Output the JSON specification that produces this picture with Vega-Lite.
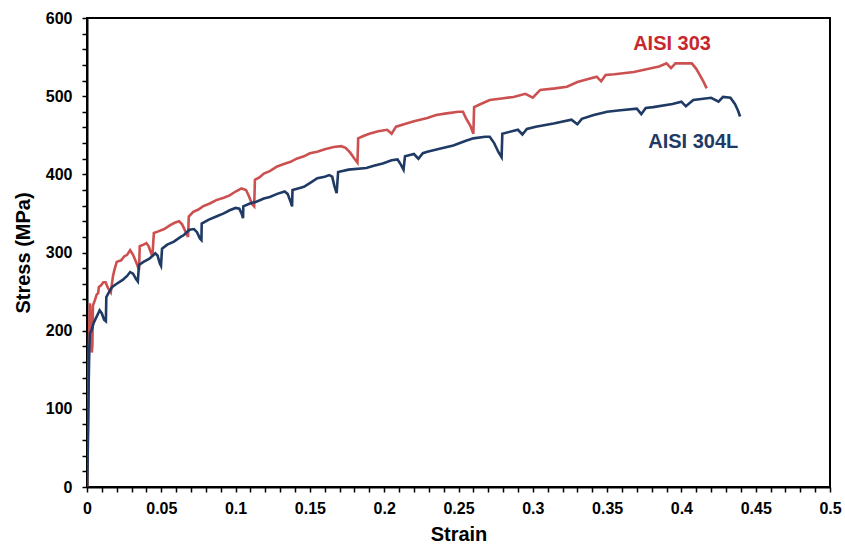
{
  "$schema": "https://vega.github.io/schema/vega-lite/v6.json",
  "width": 743,
  "height": 469,
  "autosize": {"type": "none"},
  "padding": {"left": 87, "top": 18, "right": 15, "bottom": 59},
  "background": "white",
  "view": {"stroke": "#000000", "strokeWidth": 2},
  "config": {
    "view": {"stroke": "#000000", "strokeWidth": 2},
    "axis": {
      "grid": false,
      "domainColor": "#000000",
      "domainWidth": 2,
      "tickColor": "#000000",
      "tickWidth": 1.5,
      "tickSize": 5,
      "labelOverlap": false,
      "labelBound": false,
      "labelFlush": false,
      "labelFont": "Liberation Sans",
      "labelFontWeight": "bold",
      "labelFontSize": 16,
      "labelColor": "#000000",
      "titleFont": "Liberation Sans",
      "titleFontWeight": "bold",
      "titleFontSize": 20,
      "titleColor": "#000000"
    }
  },
  "datasets": {
    "curves": [
      {"alloy": "AISI 303", "strain": 0, "stress": 0},
      {"alloy": "AISI 303", "strain": 0.0004, "stress": 50},
      {"alloy": "AISI 303", "strain": 0.0008, "stress": 110},
      {"alloy": "AISI 303", "strain": 0.0012, "stress": 170},
      {"alloy": "AISI 303", "strain": 0.0016, "stress": 215},
      {"alloy": "AISI 303", "strain": 0.002, "stress": 235},
      {"alloy": "AISI 303", "strain": 0.0026, "stress": 205},
      {"alloy": "AISI 303", "strain": 0.0032, "stress": 172},
      {"alloy": "AISI 303", "strain": 0.0036, "stress": 180},
      {"alloy": "AISI 303", "strain": 0.004, "stress": 232},
      {"alloy": "AISI 303", "strain": 0.0055, "stress": 240},
      {"alloy": "AISI 303", "strain": 0.0065, "stress": 246},
      {"alloy": "AISI 303", "strain": 0.0075, "stress": 248},
      {"alloy": "AISI 303", "strain": 0.008, "stress": 256},
      {"alloy": "AISI 303", "strain": 0.0095, "stress": 258},
      {"alloy": "AISI 303", "strain": 0.011, "stress": 262},
      {"alloy": "AISI 303", "strain": 0.0125, "stress": 262},
      {"alloy": "AISI 303", "strain": 0.014, "stress": 255},
      {"alloy": "AISI 303", "strain": 0.016, "stress": 249},
      {"alloy": "AISI 303", "strain": 0.0175, "stress": 270},
      {"alloy": "AISI 303", "strain": 0.0185, "stress": 278},
      {"alloy": "AISI 303", "strain": 0.02, "stress": 288},
      {"alloy": "AISI 303", "strain": 0.023, "stress": 290},
      {"alloy": "AISI 303", "strain": 0.025, "stress": 295},
      {"alloy": "AISI 303", "strain": 0.027, "stress": 297},
      {"alloy": "AISI 303", "strain": 0.029, "stress": 303},
      {"alloy": "AISI 303", "strain": 0.031, "stress": 297},
      {"alloy": "AISI 303", "strain": 0.033, "stress": 288},
      {"alloy": "AISI 303", "strain": 0.035, "stress": 278},
      {"alloy": "AISI 303", "strain": 0.0355, "stress": 308},
      {"alloy": "AISI 303", "strain": 0.038, "stress": 310},
      {"alloy": "AISI 303", "strain": 0.04, "stress": 312},
      {"alloy": "AISI 303", "strain": 0.0415, "stress": 308},
      {"alloy": "AISI 303", "strain": 0.043, "stress": 300},
      {"alloy": "AISI 303", "strain": 0.044, "stress": 295},
      {"alloy": "AISI 303", "strain": 0.045, "stress": 325},
      {"alloy": "AISI 303", "strain": 0.048, "stress": 327},
      {"alloy": "AISI 303", "strain": 0.052, "stress": 330},
      {"alloy": "AISI 303", "strain": 0.056, "stress": 335},
      {"alloy": "AISI 303", "strain": 0.059, "stress": 338},
      {"alloy": "AISI 303", "strain": 0.062, "stress": 340},
      {"alloy": "AISI 303", "strain": 0.064, "stress": 336},
      {"alloy": "AISI 303", "strain": 0.066, "stress": 328},
      {"alloy": "AISI 303", "strain": 0.068, "stress": 320},
      {"alloy": "AISI 303", "strain": 0.0685, "stress": 346},
      {"alloy": "AISI 303", "strain": 0.0715, "stress": 352},
      {"alloy": "AISI 303", "strain": 0.075, "stress": 355},
      {"alloy": "AISI 303", "strain": 0.078, "stress": 359},
      {"alloy": "AISI 303", "strain": 0.083, "stress": 363},
      {"alloy": "AISI 303", "strain": 0.087, "stress": 367},
      {"alloy": "AISI 303", "strain": 0.092, "stress": 370},
      {"alloy": "AISI 303", "strain": 0.096, "stress": 373},
      {"alloy": "AISI 303", "strain": 0.1, "stress": 378},
      {"alloy": "AISI 303", "strain": 0.104, "stress": 382},
      {"alloy": "AISI 303", "strain": 0.107, "stress": 380},
      {"alloy": "AISI 303", "strain": 0.109, "stress": 372},
      {"alloy": "AISI 303", "strain": 0.111, "stress": 362},
      {"alloy": "AISI 303", "strain": 0.1125, "stress": 359},
      {"alloy": "AISI 303", "strain": 0.113, "stress": 393},
      {"alloy": "AISI 303", "strain": 0.116, "stress": 396},
      {"alloy": "AISI 303", "strain": 0.119, "stress": 401},
      {"alloy": "AISI 303", "strain": 0.123, "stress": 404},
      {"alloy": "AISI 303", "strain": 0.128, "stress": 410},
      {"alloy": "AISI 303", "strain": 0.132, "stress": 413},
      {"alloy": "AISI 303", "strain": 0.137, "stress": 416},
      {"alloy": "AISI 303", "strain": 0.141, "stress": 420},
      {"alloy": "AISI 303", "strain": 0.146, "stress": 423},
      {"alloy": "AISI 303", "strain": 0.15, "stress": 427},
      {"alloy": "AISI 303", "strain": 0.155, "stress": 429},
      {"alloy": "AISI 303", "strain": 0.16, "stress": 432},
      {"alloy": "AISI 303", "strain": 0.166, "stress": 435},
      {"alloy": "AISI 303", "strain": 0.171, "stress": 436},
      {"alloy": "AISI 303", "strain": 0.174, "stress": 434},
      {"alloy": "AISI 303", "strain": 0.177, "stress": 428},
      {"alloy": "AISI 303", "strain": 0.18, "stress": 420},
      {"alloy": "AISI 303", "strain": 0.182, "stress": 415},
      {"alloy": "AISI 303", "strain": 0.1825, "stress": 446},
      {"alloy": "AISI 303", "strain": 0.186, "stress": 449},
      {"alloy": "AISI 303", "strain": 0.19, "stress": 452},
      {"alloy": "AISI 303", "strain": 0.196, "stress": 455},
      {"alloy": "AISI 303", "strain": 0.202, "stress": 457},
      {"alloy": "AISI 303", "strain": 0.205, "stress": 452},
      {"alloy": "AISI 303", "strain": 0.208, "stress": 461},
      {"alloy": "AISI 303", "strain": 0.215, "stress": 465},
      {"alloy": "AISI 303", "strain": 0.22, "stress": 468},
      {"alloy": "AISI 303", "strain": 0.229, "stress": 472},
      {"alloy": "AISI 303", "strain": 0.235, "stress": 476},
      {"alloy": "AISI 303", "strain": 0.242, "stress": 478},
      {"alloy": "AISI 303", "strain": 0.25, "stress": 480},
      {"alloy": "AISI 303", "strain": 0.253, "stress": 480},
      {"alloy": "AISI 303", "strain": 0.255, "stress": 472},
      {"alloy": "AISI 303", "strain": 0.258, "stress": 462},
      {"alloy": "AISI 303", "strain": 0.26, "stress": 452},
      {"alloy": "AISI 303", "strain": 0.2605, "stress": 486},
      {"alloy": "AISI 303", "strain": 0.265, "stress": 490},
      {"alloy": "AISI 303", "strain": 0.271, "stress": 495},
      {"alloy": "AISI 303", "strain": 0.279, "stress": 497},
      {"alloy": "AISI 303", "strain": 0.287, "stress": 499},
      {"alloy": "AISI 303", "strain": 0.295, "stress": 503},
      {"alloy": "AISI 303", "strain": 0.3, "stress": 498},
      {"alloy": "AISI 303", "strain": 0.305, "stress": 508},
      {"alloy": "AISI 303", "strain": 0.315, "stress": 510},
      {"alloy": "AISI 303", "strain": 0.323, "stress": 512},
      {"alloy": "AISI 303", "strain": 0.33, "stress": 518},
      {"alloy": "AISI 303", "strain": 0.343, "stress": 525},
      {"alloy": "AISI 303", "strain": 0.346, "stress": 519},
      {"alloy": "AISI 303", "strain": 0.349, "stress": 527},
      {"alloy": "AISI 303", "strain": 0.355, "stress": 528},
      {"alloy": "AISI 303", "strain": 0.368, "stress": 531},
      {"alloy": "AISI 303", "strain": 0.378, "stress": 535},
      {"alloy": "AISI 303", "strain": 0.385, "stress": 538},
      {"alloy": "AISI 303", "strain": 0.39, "stress": 542},
      {"alloy": "AISI 303", "strain": 0.393, "stress": 536},
      {"alloy": "AISI 303", "strain": 0.396, "stress": 542},
      {"alloy": "AISI 303", "strain": 0.407, "stress": 542},
      {"alloy": "AISI 303", "strain": 0.41, "stress": 535},
      {"alloy": "AISI 303", "strain": 0.413, "stress": 525},
      {"alloy": "AISI 303", "strain": 0.415, "stress": 518},
      {"alloy": "AISI 303", "strain": 0.417, "stress": 510},

      {"alloy": "AISI 304L", "strain": 0, "stress": 0},
      {"alloy": "AISI 304L", "strain": 0.0004, "stress": 30},
      {"alloy": "AISI 304L", "strain": 0.0008, "stress": 80},
      {"alloy": "AISI 304L", "strain": 0.0012, "stress": 140},
      {"alloy": "AISI 304L", "strain": 0.0016, "stress": 180},
      {"alloy": "AISI 304L", "strain": 0.002, "stress": 197},
      {"alloy": "AISI 304L", "strain": 0.003, "stress": 200},
      {"alloy": "AISI 304L", "strain": 0.0045, "stress": 210},
      {"alloy": "AISI 304L", "strain": 0.006, "stress": 216},
      {"alloy": "AISI 304L", "strain": 0.0075, "stress": 222},
      {"alloy": "AISI 304L", "strain": 0.0085, "stress": 226},
      {"alloy": "AISI 304L", "strain": 0.01, "stress": 222},
      {"alloy": "AISI 304L", "strain": 0.0115, "stress": 214},
      {"alloy": "AISI 304L", "strain": 0.0127, "stress": 212},
      {"alloy": "AISI 304L", "strain": 0.013, "stress": 243},
      {"alloy": "AISI 304L", "strain": 0.015, "stress": 250},
      {"alloy": "AISI 304L", "strain": 0.017, "stress": 256},
      {"alloy": "AISI 304L", "strain": 0.02, "stress": 260},
      {"alloy": "AISI 304L", "strain": 0.024, "stress": 265},
      {"alloy": "AISI 304L", "strain": 0.027, "stress": 270},
      {"alloy": "AISI 304L", "strain": 0.029, "stress": 275},
      {"alloy": "AISI 304L", "strain": 0.031, "stress": 273},
      {"alloy": "AISI 304L", "strain": 0.033, "stress": 266},
      {"alloy": "AISI 304L", "strain": 0.0342, "stress": 263},
      {"alloy": "AISI 304L", "strain": 0.035, "stress": 284},
      {"alloy": "AISI 304L", "strain": 0.038, "stress": 288},
      {"alloy": "AISI 304L", "strain": 0.042, "stress": 292},
      {"alloy": "AISI 304L", "strain": 0.046, "stress": 299},
      {"alloy": "AISI 304L", "strain": 0.0475, "stress": 296},
      {"alloy": "AISI 304L", "strain": 0.049, "stress": 286},
      {"alloy": "AISI 304L", "strain": 0.0498, "stress": 283},
      {"alloy": "AISI 304L", "strain": 0.0505, "stress": 305},
      {"alloy": "AISI 304L", "strain": 0.054, "stress": 310},
      {"alloy": "AISI 304L", "strain": 0.0585, "stress": 314},
      {"alloy": "AISI 304L", "strain": 0.063, "stress": 320},
      {"alloy": "AISI 304L", "strain": 0.065, "stress": 322},
      {"alloy": "AISI 304L", "strain": 0.069, "stress": 329},
      {"alloy": "AISI 304L", "strain": 0.072, "stress": 330},
      {"alloy": "AISI 304L", "strain": 0.074, "stress": 326},
      {"alloy": "AISI 304L", "strain": 0.076, "stress": 318},
      {"alloy": "AISI 304L", "strain": 0.077, "stress": 316},
      {"alloy": "AISI 304L", "strain": 0.0772, "stress": 337},
      {"alloy": "AISI 304L", "strain": 0.082, "stress": 342},
      {"alloy": "AISI 304L", "strain": 0.087, "stress": 346},
      {"alloy": "AISI 304L", "strain": 0.092, "stress": 350},
      {"alloy": "AISI 304L", "strain": 0.096, "stress": 354},
      {"alloy": "AISI 304L", "strain": 0.1, "stress": 357},
      {"alloy": "AISI 304L", "strain": 0.1025, "stress": 356},
      {"alloy": "AISI 304L", "strain": 0.104, "stress": 350},
      {"alloy": "AISI 304L", "strain": 0.105, "stress": 344},
      {"alloy": "AISI 304L", "strain": 0.1052, "stress": 359},
      {"alloy": "AISI 304L", "strain": 0.11, "stress": 363},
      {"alloy": "AISI 304L", "strain": 0.114, "stress": 365},
      {"alloy": "AISI 304L", "strain": 0.119, "stress": 369},
      {"alloy": "AISI 304L", "strain": 0.123, "stress": 371},
      {"alloy": "AISI 304L", "strain": 0.128, "stress": 375},
      {"alloy": "AISI 304L", "strain": 0.133, "stress": 378},
      {"alloy": "AISI 304L", "strain": 0.135, "stress": 375},
      {"alloy": "AISI 304L", "strain": 0.137, "stress": 365},
      {"alloy": "AISI 304L", "strain": 0.138, "stress": 359},
      {"alloy": "AISI 304L", "strain": 0.1383, "stress": 380},
      {"alloy": "AISI 304L", "strain": 0.142, "stress": 382},
      {"alloy": "AISI 304L", "strain": 0.146, "stress": 384},
      {"alloy": "AISI 304L", "strain": 0.151, "stress": 390},
      {"alloy": "AISI 304L", "strain": 0.155, "stress": 395},
      {"alloy": "AISI 304L", "strain": 0.16, "stress": 397},
      {"alloy": "AISI 304L", "strain": 0.163, "stress": 399},
      {"alloy": "AISI 304L", "strain": 0.165, "stress": 397},
      {"alloy": "AISI 304L", "strain": 0.1665, "stress": 385},
      {"alloy": "AISI 304L", "strain": 0.168, "stress": 376},
      {"alloy": "AISI 304L", "strain": 0.169, "stress": 403},
      {"alloy": "AISI 304L", "strain": 0.176, "stress": 406},
      {"alloy": "AISI 304L", "strain": 0.188, "stress": 408},
      {"alloy": "AISI 304L", "strain": 0.193, "stress": 411},
      {"alloy": "AISI 304L", "strain": 0.199, "stress": 414},
      {"alloy": "AISI 304L", "strain": 0.205, "stress": 418},
      {"alloy": "AISI 304L", "strain": 0.209, "stress": 419},
      {"alloy": "AISI 304L", "strain": 0.211, "stress": 413},
      {"alloy": "AISI 304L", "strain": 0.213, "stress": 406},
      {"alloy": "AISI 304L", "strain": 0.214, "stress": 423},
      {"alloy": "AISI 304L", "strain": 0.22, "stress": 426},
      {"alloy": "AISI 304L", "strain": 0.223, "stress": 420},
      {"alloy": "AISI 304L", "strain": 0.226, "stress": 427},
      {"alloy": "AISI 304L", "strain": 0.229, "stress": 429},
      {"alloy": "AISI 304L", "strain": 0.238, "stress": 433},
      {"alloy": "AISI 304L", "strain": 0.2465, "stress": 437},
      {"alloy": "AISI 304L", "strain": 0.255, "stress": 443},
      {"alloy": "AISI 304L", "strain": 0.26, "stress": 446},
      {"alloy": "AISI 304L", "strain": 0.268, "stress": 448},
      {"alloy": "AISI 304L", "strain": 0.271, "stress": 448},
      {"alloy": "AISI 304L", "strain": 0.274, "stress": 440},
      {"alloy": "AISI 304L", "strain": 0.277, "stress": 428},
      {"alloy": "AISI 304L", "strain": 0.279, "stress": 422},
      {"alloy": "AISI 304L", "strain": 0.2795, "stress": 452},
      {"alloy": "AISI 304L", "strain": 0.29, "stress": 457},
      {"alloy": "AISI 304L", "strain": 0.293, "stress": 451},
      {"alloy": "AISI 304L", "strain": 0.296, "stress": 458},
      {"alloy": "AISI 304L", "strain": 0.302, "stress": 461},
      {"alloy": "AISI 304L", "strain": 0.314, "stress": 465},
      {"alloy": "AISI 304L", "strain": 0.326, "stress": 470},
      {"alloy": "AISI 304L", "strain": 0.33, "stress": 464},
      {"alloy": "AISI 304L", "strain": 0.333, "stress": 471},
      {"alloy": "AISI 304L", "strain": 0.341, "stress": 476},
      {"alloy": "AISI 304L", "strain": 0.35, "stress": 480},
      {"alloy": "AISI 304L", "strain": 0.359, "stress": 482},
      {"alloy": "AISI 304L", "strain": 0.37, "stress": 484},
      {"alloy": "AISI 304L", "strain": 0.373, "stress": 477},
      {"alloy": "AISI 304L", "strain": 0.376, "stress": 485},
      {"alloy": "AISI 304L", "strain": 0.381, "stress": 486},
      {"alloy": "AISI 304L", "strain": 0.394, "stress": 490},
      {"alloy": "AISI 304L", "strain": 0.4, "stress": 493},
      {"alloy": "AISI 304L", "strain": 0.403, "stress": 487},
      {"alloy": "AISI 304L", "strain": 0.408, "stress": 495},
      {"alloy": "AISI 304L", "strain": 0.42, "stress": 498},
      {"alloy": "AISI 304L", "strain": 0.425, "stress": 493},
      {"alloy": "AISI 304L", "strain": 0.428, "stress": 499},
      {"alloy": "AISI 304L", "strain": 0.433, "stress": 498},
      {"alloy": "AISI 304L", "strain": 0.436, "stress": 490},
      {"alloy": "AISI 304L", "strain": 0.438, "stress": 482},
      {"alloy": "AISI 304L", "strain": 0.4395, "stress": 474}
    ],
    "labels": [
      {"alloy": "AISI 303", "strain": 0.3937, "stress": 567},
      {"alloy": "AISI 304L", "strain": 0.408, "stress": 441}
    ]
  },
  "layer": [
    {
      "data": {"name": "curves"},
      "mark": {"type": "line", "strokeWidth": 2.6, "clip": true},
      "encoding": {
        "x": {
          "field": "strain",
          "type": "quantitative",
          "scale": {"domain": [0, 0.5], "nice": false},
          "axis": {
            "title": "Strain",
            "titlePadding": 8,
            "labelPadding": 8,
            "tickCount": 1000,
            "domainColor": "#000000",
            "tickColor": "#000000",
            "values": [0, 0.01, 0.02, 0.03, 0.04, 0.05, 0.06, 0.07, 0.08, 0.09, 0.1, 0.11, 0.12, 0.13, 0.14, 0.15, 0.16, 0.17, 0.18, 0.19, 0.2, 0.21, 0.22, 0.23, 0.24, 0.25, 0.26, 0.27, 0.28, 0.29, 0.3, 0.31, 0.32, 0.33, 0.34, 0.35, 0.36, 0.37, 0.38, 0.39, 0.4, 0.41, 0.42, 0.43, 0.44, 0.45, 0.46, 0.47, 0.48, 0.49, 0.5],
            "labelExpr": "round(datum.value*100) % 5 == 0 ? format(datum.value, '.2~f') : ''"
          }
        },
        "y": {
          "field": "stress",
          "type": "quantitative",
          "scale": {"domain": [0, 600], "nice": false},
          "axis": {
            "title": "Stress (MPa)",
            "labelPadding": 10,
            "titlePadding": 12,
            "tickCount": 1000,
            "domainColor": "#000000",
            "tickColor": "#000000",
            "values": [0, 20, 40, 60, 80, 100, 120, 140, 160, 180, 200, 220, 240, 260, 280, 300, 320, 340, 360, 380, 400, 420, 440, 460, 480, 500, 520, 540, 560, 580, 600],
            "labelExpr": "datum.value % 100 == 0 ? format(datum.value, 'd') : ''"
          }
        },
        "color": {
          "field": "alloy",
          "type": "nominal",
          "scale": {"domain": ["AISI 303", "AISI 304L"], "range": ["#CD5050", "#1F3A64"]},
          "legend": null
        }
      }
    },
    {
      "data": {"name": "labels"},
      "mark": {"type": "text", "font": "Liberation Sans", "fontWeight": "bold", "fontSize": 20, "align": "center", "baseline": "middle"},
      "encoding": {
        "x": {"field": "strain", "type": "quantitative"},
        "y": {"field": "stress", "type": "quantitative"},
        "text": {"field": "alloy"},
        "color": {
          "field": "alloy",
          "type": "nominal",
          "scale": {"domain": ["AISI 303", "AISI 304L"], "range": ["#C8282D", "#1F3A64"]},
          "legend": null
        }
      }
    }
  ],
  "resolve": {"scale": {"color": "independent"}}
}
